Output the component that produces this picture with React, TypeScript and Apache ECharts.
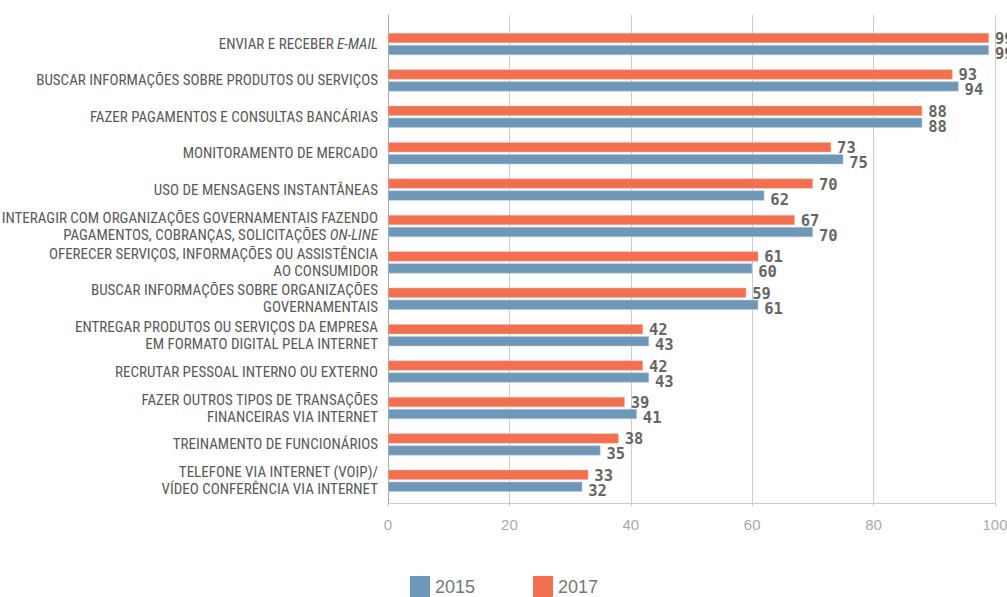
import React, { useEffect, useRef } from "react";
import * as echarts from "echarts";

const categories: string[] = [
  "ENVIAR E RECEBER {i|E-MAIL}",
  "BUSCAR INFORMAÇÕES SOBRE PRODUTOS OU SERVIÇOS",
  "FAZER PAGAMENTOS E CONSULTAS BANCÁRIAS",
  "MONITORAMENTO DE MERCADO",
  "USO DE MENSAGENS INSTANTÂNEAS",
  "INTERAGIR COM ORGANIZAÇÕES GOVERNAMENTAIS FAZENDO\nPAGAMENTOS, COBRANÇAS, SOLICITAÇÕES {i|ON-LINE}",
  "OFERECER SERVIÇOS, INFORMAÇÕES OU ASSISTÊNCIA\nAO CONSUMIDOR",
  "BUSCAR INFORMAÇÕES SOBRE ORGANIZAÇÕES\nGOVERNAMENTAIS",
  "ENTREGAR PRODUTOS OU SERVIÇOS DA EMPRESA\nEM FORMATO DIGITAL PELA INTERNET",
  "RECRUTAR PESSOAL INTERNO OU EXTERNO",
  "FAZER OUTROS TIPOS DE TRANSAÇÕES\nFINANCEIRAS VIA INTERNET",
  "TREINAMENTO DE FUNCIONÁRIOS",
  "TELEFONE VIA INTERNET (VOIP)/\nVÍDEO CONFERÊNCIA VIA INTERNET",
];

const values2017: number[] = [99, 93, 88, 73, 70, 67, 61, 59, 42, 42, 39, 38, 33];
const values2015: number[] = [99, 94, 88, 75, 62, 70, 60, 61, 43, 43, 41, 35, 32];

const xTicks = { min: 0, max: 100, interval: 20 };

const BLUE = "#6f98b8";
const ORANGE = "#f26f50";
const NARROW = "'Liberation Sans Narrow', 'Roboto Condensed', 'DejaVu Sans Condensed', sans-serif";

export default function App() {
  const ref = useRef<HTMLDivElement>(null);
  useEffect(() => {
    if (!ref.current) return;
    const chart = echarts.init(ref.current, undefined, { renderer: "svg" });
    const valueLabel = {
      show: true,
      position: "right" as const,
      distance: 6,
      color: "#666",
      fontFamily: "'DejaVu Sans Mono', monospace",
      fontWeight: 600,
      fontSize: 15.5,
    };
    chart.setOption({
      animation: false,
      backgroundColor: "#fff",
      grid: [
        { left: 388, right: 12, top: 15, height: 488, outerBoundsMode: "none", containLabel: false },
        { left: 388, right: 12, top: 25.8, height: 473.2, outerBoundsMode: "none", containLabel: false },
      ],
      xAxis: [
        {
          type: "value",
          gridIndex: 0,
          min: xTicks.min,
          max: xTicks.max,
          interval: xTicks.interval,
          axisLine: { show: true, lineStyle: { color: "#ccc" } },
          axisTick: { show: true, length: 3, lineStyle: { color: "#ccc" } },
          splitLine: { show: true, lineStyle: { color: "#ccc", width: 1 } },
          axisLabel: { color: "#aaa", fontSize: 15, margin: 14, fontFamily: "'Liberation Sans', sans-serif" },
        },
        {
          type: "value",
          gridIndex: 1,
          min: xTicks.min,
          max: xTicks.max,
          interval: xTicks.interval,
          show: false,
        },
      ],
      yAxis: [
        {
          type: "category",
          gridIndex: 0,
          data: [""],
          axisLine: { show: true, onZero: false, lineStyle: { color: "#aaa" } },
          axisTick: { show: false },
          axisLabel: { show: false },
        },
        {
          type: "category",
          gridIndex: 1,
          data: categories,
          inverse: true,
          axisLine: { show: false },
          axisTick: { show: false },
          axisLabel: {
            margin: 10,
            color: "#595959",
            fontSize: 15,
            lineHeight: 17,
            fontFamily: NARROW,
            align: "right",
            rich: {
              i: { fontStyle: "italic", color: "#595959", fontSize: 15, lineHeight: 17, fontFamily: NARROW },
            },
          },
        },
      ],
      legend: {
        data: ["2015", "2017"],
        top: 576,
        left: 410,
        padding: 0,
        itemWidth: 20,
        itemHeight: 21,
        itemGap: 58,
        icon: "rect",
        itemStyle: { borderWidth: 0 },
        textStyle: { color: "#777", fontSize: 18, padding: [4, 0, 0, 0], fontFamily: "'Liberation Sans', sans-serif" },
      },
      series: [
        {
          name: "2017",
          type: "bar",
          xAxisIndex: 1,
          yAxisIndex: 1,
          data: values2017,
          barWidth: 10,
          barGap: "20%",
          itemStyle: { color: ORANGE, borderColor: "#f8b3a2", borderWidth: 0.5 },
          label: { ...valueLabel, offset: [0, 1] },
        },
        {
          name: "2015",
          type: "bar",
          xAxisIndex: 1,
          yAxisIndex: 1,
          data: values2015,
          barWidth: 10,
          barGap: "20%",
          itemStyle: { color: BLUE, borderColor: "#b5cadb", borderWidth: 0.5 },
          label: { ...valueLabel, offset: [0, 4] },
        },
      ],
    });
    return () => chart.dispose();
  }, []);
  return (
    <div
      ref={ref}
      style={{ position: "absolute", left: 0, top: 0, width: 1007, height: 597 }}
    />
  );
}
